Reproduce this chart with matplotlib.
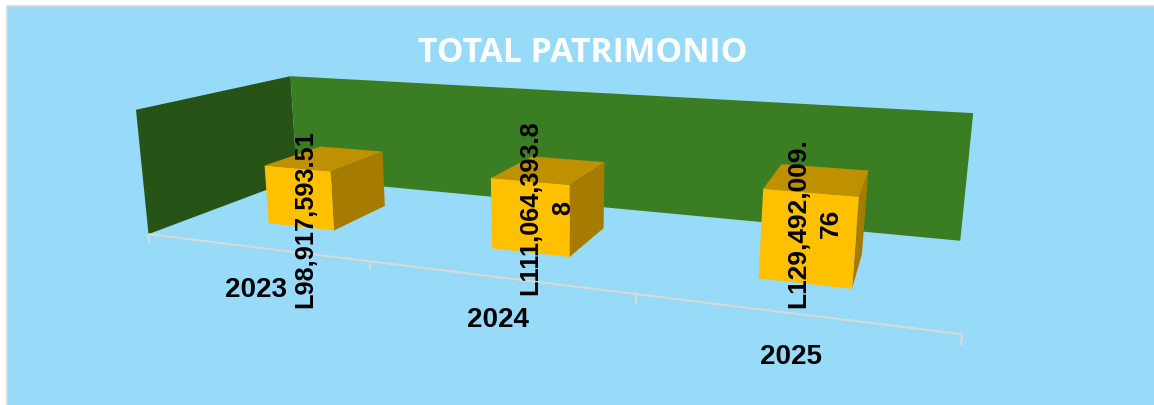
import numpy as np
import matplotlib as mpl
mpl.use('Agg')
import matplotlib.pyplot as plt
from mpl_toolkits.mplot3d.art3d import Poly3DCollection, Line3DCollection

years = ["2023", "2024", "2025"]
patrimonio = [98917593.51, 111064393.88, 129492009.76]
bar_labels = ["L98,917,593.51", "L111,064,393.8\n8", "L129,492,009.\n76"]

W, H = 1154, 406
ZMAX = 2.03e8

# camera: box corner -> where it sits in the picture
box = [(0, 0, 0), (3, 0, 0), (0, 1, 0), (3, 1, 0), (0, 1, 1), (3, 1, 1), (0, 0, 1)]
pix = [(149.5, 235.5), (962, 335), (296, 179), (960.5, 242), (291.5, 77.5), (973, 114), (135, 110.5)]
A = []
for (x, y, z), (u, v) in zip(box, pix):
    A.append([x, y, z, 1, 0, 0, 0, 0, -u*x, -u*y, -u*z, -u])
    A.append([0, 0, 0, 0, x, y, z, 1, -v*x, -v*y, -v*z, -v])
P = np.linalg.svd(np.array(A))[2][-1].reshape(3, 4)
if P[2, 3] < 0:
    P = -P
P[:, 2] = P[:, 2] / ZMAX
M = np.vstack([P[0], P[1], [0, 1, 0, 0], P[2]])

fig = plt.figure(figsize=(W/100, H/100), dpi=100, facecolor='white')
fig.add_artist(plt.Rectangle((6.5/W, -0.01), 1.1, 1 - 6.5/H + 0.01, transform=fig.transFigure,
                             facecolor='#97DBF9', edgecolor='#D9D9D9', linewidth=1.2, zorder=-1))
ax = fig.add_axes([0, 0, 1, 1], projection='3d', computed_zorder=False)
ax.patch.set_alpha(0)
ax.set_axis_off()
ax.get_proj = lambda: M
ax.apply_aspect = lambda position=None: None
ax.viewLim.intervalx = (0, W)
ax.viewLim.intervaly = (H, 0)

n = len(years)
ax.add_collection3d(Poly3DCollection([[(0, 0, 0), (0, 1, 0), (0, 1, ZMAX), (0, 0, ZMAX)]],
                                     facecolors='#275317', linewidths=0, zorder=1))
ax.add_collection3d(Poly3DCollection([[(0, 1, 0), (n, 1, 0), (n, 1, ZMAX), (0, 1, ZMAX)]],
                                     facecolors='#3B7D23', linewidths=0, zorder=1))

# floor edge and ticks between the years
segs = [[(0, 0, 0), (n, 0, 0)]]
for i in range(n + 1):
    segs.append([(i, 0, 0), (i, 0, -0.07*ZMAX)])
ax.add_collection3d(Line3DCollection(segs, colors='#D9D9D9', linewidths=1.5, zorder=2))

# bottom, top, front, back, left, right
none = (0, 0, 0, 0)
faces = [none, '#BF9000', '#FFC000', none, none, '#A67C00'] * n
xpos = np.arange(n) + 0.35
ax.bar3d(xpos, [0.295]*n, [0]*n, 0.31, 0.4, patrimonio, color=faces, shade=False, linewidth=0, zorder=3)

ax.set_xlim(0, n)
ax.set_ylim(0, 1)
ax.set_zlim(0, ZMAX)

fig.text(583/W, 1 - 53/H, "TOTAL PATRIMONIO", color='white', fontsize=24.2, fontweight='bold',
         family='Open Sans', ha='center', va='center')
for s, px, py in zip(years, [256, 498, 791], [290, 320, 357]):
    fig.text(px/W, 1 - py/H, s, fontsize=20, fontweight='bold', family='Liberation Sans',
             ha='center', va='center')
for s, px, py, fs in zip(bar_labels, [305, 547, 815], [219.5, 208, 223], [18.2, 18.2, 19]):
    fig.text(px/W, 1 - py/H, s, fontsize=fs, fontweight='bold', family='Liberation Sans',
             rotation=90, ha='center', va='center', multialignment='center', linespacing=1.45)

fig.savefig("out.png", dpi=100)
